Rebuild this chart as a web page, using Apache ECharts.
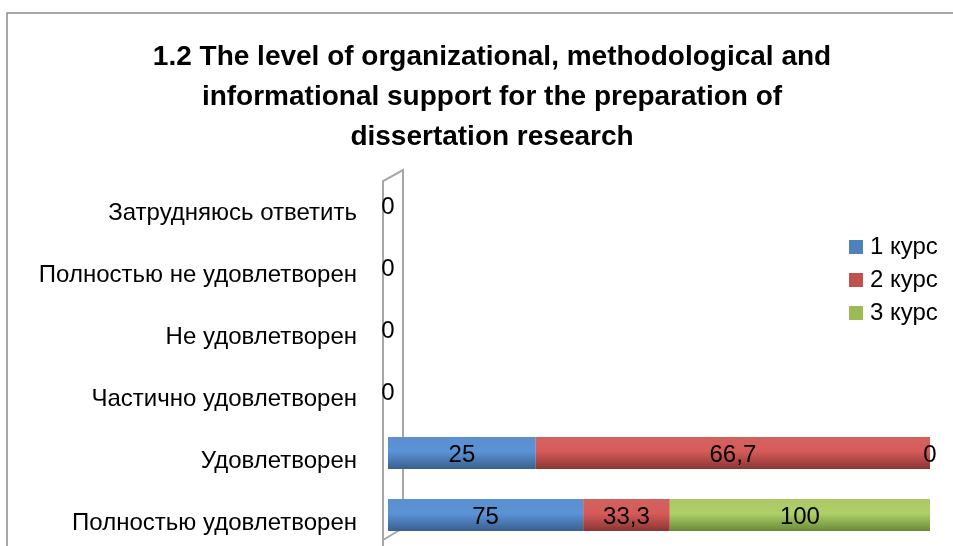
<!DOCTYPE html>
<html>
<head>
<meta charset="utf-8">
<script src="https://cdn.jsdelivr.net/npm/echarts@6/dist/echarts.min.js"></script>
<style>
  html, body { margin: 0; padding: 0; background: #fff; }
  #chart { width: 953px; height: 546px; }
</style>
</head>
<body>
<div id="chart"></div>
<script>
// категории снизу вверх
const categories = [
  "Полностью удовлетворен",
  "Удовлетворен",
  "Частично удовлетворен",
  "Не удовлетворен",
  "Полностью не удовлетворен",
  "Затрудняюсь ответить",
];
const kurs1 = [75, 25, 0, 0, 0, 0];
const kurs2 = [33.3, 66.7, 0, 0, 0, 0];
const kurs3 = [100, 0, 0, 0, 0, 0];
const seriesNames = ["1 курс", "2 курс", "3 курс"];
const colors = ["#4f81bd", "#c0504d", "#9bbb59"];
// цилиндр: верх / середина / низ
const shades = [
  ["#5b8fd0", "#5a93d6", "#3a5f8f"],
  ["#d2625f", "#d65b59", "#8a3634"],
  ["#a9c866", "#afd068", "#6a8a38"],
];

const raw = [kurs1, kurs2, kurs3];
// 100% stacked, как в Excel
const totals = categories.map((c, i) => kurs1[i] + kurs2[i] + kurs3[i]);

const fontFam = "Liberation Sans";
const chart = echarts.init(document.getElementById("chart"));

const series = raw.map((vals, s) => ({
  name: seriesNames[s],
  type: "bar",
  stack: "total",
  barWidth: 32,
  itemStyle: {
    color: new echarts.graphic.LinearGradient(0, 0, 0, 1, [
      { offset: 0, color: shades[s][0] },
      { offset: 0.45, color: shades[s][1] },
      { offset: 1, color: shades[s][2] },
    ]),
  },
  label: {
    show: true,
    position: "inside",
    color: "#000",
    fontSize: 24,
    fontFamily: fontFam,
    offset: [0, 2],
    formatter: (p) => {
      const v = vals[p.dataIndex];
      if (v === 0 && s < 2) return ""; // нули показываем одной подписью
      return String(v).replace(".", ",");
    },
  },
  data: vals.map((v, i) => (totals[i] ? (v / totals[i]) * 100 : 0)),
}));

chart.setOption({
  animation: false,
  color: colors,
  textStyle: { fontFamily: fontFam },
  title: {
    text: "1.2 The level of organizational, methodological and\ninformational support for the preparation of\ndissertation research",
    left: 487,
    textAlign: "center",
    top: 32,
    textStyle: { fontSize: 28, fontWeight: "bold", color: "#000", lineHeight: 40, fontFamily: fontFam },
  },
  legend: {
    orient: "vertical",
    left: 849,
    top: 235,
    padding: 0,
    itemWidth: 14,
    itemHeight: 14,
    itemGap: 9,
    icon: "rect",
    textStyle: { fontSize: 24, lineHeight: 20, color: "#000", padding: [0, 0, 0, 2] },
    data: seriesNames.map((n, i) => ({ name: n, itemStyle: { color: colors[i] } })),
  },
  grid: { left: 388, right: 23, top: 174, bottom: 0 },
  xAxis: {
    type: "value",
    min: 0,
    max: 100,
    show: false,
  },
  yAxis: {
    type: "category",
    data: categories,
    axisTick: { show: false },
    axisLine: { show: false },
    // подписи в Excel чуть ниже центра полосы
    axisLabel: { fontSize: 24, color: "#000", margin: 31, verticalAlign: "top", lineHeight: 16 },
  },
  graphic: [
    {
      type: "rect",
      shape: { x: 7, y: 13, width: 960, height: 560 },
      style: { fill: "none", stroke: "#8c8c8c", lineWidth: 1.5 },
      silent: true,
    },
    {
      // стенка оси
      type: "polyline",
      z: -1,
      shape: { points: [[383, 560], [383, 181], [403, 170], [403, 528], [383, 540]] },
      style: { fill: "none", stroke: "#a6a6a6", lineWidth: 2 },
      silent: true,
    },
  ],
  series: series,
});
</script>
</body>
</html>
